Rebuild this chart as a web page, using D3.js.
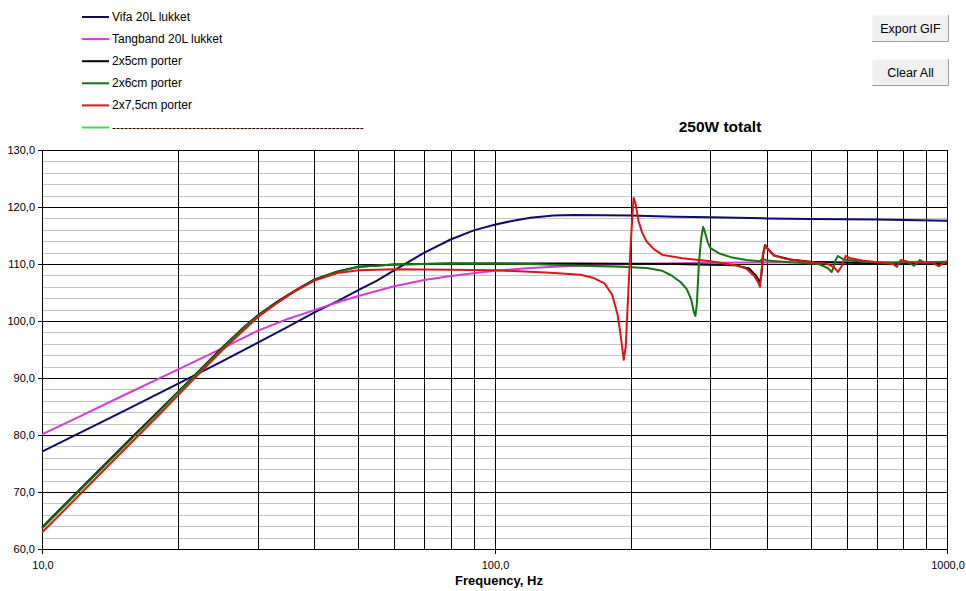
<!DOCTYPE html>
<html>
<head>
<meta charset="utf-8">
<script src="https://cdn.jsdelivr.net/npm/d3@7"></script>
<style>
  body { margin: 0; background: #fff; }
  svg { font-family: "Liberation Sans", Arial, sans-serif; }
</style>
</head>
<body>
<div id="chart"></div>
<script>
// series data: [frequency Hz, SPL dB]
const vifa = [[10,77.1],[12,80.2],[15,84.0],[20,89.0],[25,92.9],[30,96.2],[35,99.0],[40,101.5],[45,103.5],[50,105.4],[55,107.1],[60,108.9],[70,112.0],[80,114.3],[90,115.9],[100,116.9],[110,117.6],[120,118.1],[135,118.5],[150,118.6],[200,118.5],[250,118.3],[300,118.2],[400,118.0],[500,117.9],[700,117.8],[1000,117.6]];
const tangband = [[10,80.1],[12,83.1],[15,86.8],[20,91.5],[25,95.2],[30,98.3],[35,100.4],[40,101.9],[45,103.3],[50,104.4],[60,106.1],[70,107.2],[80,107.9],[100,108.8],[120,109.3],[150,109.7],[200,110.0],[300,110.2],[500,110.3],[1000,110.3]];
const porter5 = [[10,63.8],[12,70.1],[14,75.4],[16,80.0],[18,84.0],[20,87.6],[22,90.9],[25,95.3],[28,99.0],[30,101.0],[33,103.3],[36,105.2],[40,107.3],[45,108.7],[50,109.5],[60,109.9],[80,110.1],[150,110.1],[250,110.0],[340,109.8],[365,109.2],[378,108.0],[386,106.8],[389,108.2],[392,111.5],[396,113.3],[402,112.6],[415,111.5],[450,110.8],[500,110.4],[600,110.2],[800,110.1],[1000,110.2]];
const porter6 = [[10,63.6],[12,69.9],[14,75.2],[16,79.8],[18,83.8],[20,87.5],[22,90.8],[25,95.2],[28,98.9],[30,100.9],[33,103.2],[36,105.1],[40,107.2],[45,108.6],[50,109.5],[60,109.9],[80,110.1],[120,110.0],[155,109.7],[190,109.5],[217,109.3],[235,108.8],[247,107.9],[258,106.8],[266,105.6],[272,103.8],[276,101.5],[278,100.9],[280,103.0],[283,110.2],[286,114.2],[289,116.5],[292,115.5],[296,113.8],[300,112.8],[315,111.8],[333,111.2],[360,110.7],[386,110.5],[392,110.9],[400,110.6],[450,110.3],[520,110.0],[545,109.3],[556,108.6],[562,109.5],[568,110.8],[574,111.4],[590,110.8],[650,110.4],[750,110.2],[820,110.3],[845,109.7],[860,110.2],[870,110.7],[890,110.3],[1000,110.4]];
const porter75 = [[10,62.9],[12,69.2],[14,74.6],[16,79.2],[18,83.3],[20,87.0],[22,90.4],[25,94.8],[28,98.5],[30,100.7],[33,103.1],[36,105.1],[40,107.1],[45,108.4],[50,108.9],[60,109.1],[80,109.0],[100,108.9],[130,108.5],[155,108.1],[165,107.6],[175,106.6],[182,104.6],[187,101.2],[190,97.5],[193,93.2],[195,95.5],[197,103.0],[199,110.2],[201,116.5],[203,121.6],[205,120.6],[208,117.6],[212,115.5],[217,113.9],[225,112.6],[235,111.6],[260,111.0],[300,110.5],[340,109.8],[360,109.2],[375,107.9],[383,106.7],[386,106.0],[389,108.5],[392,111.8],[397,113.3],[403,112.5],[415,111.5],[440,110.9],[490,110.4],[540,110.1],[563,109.4],[574,108.6],[585,109.6],[597,111.4],[612,111.0],[650,110.6],[700,110.3],[760,110.0],[775,109.5],[790,110.7],[820,110.4],[880,110.2],[930,110.2],[960,109.6],[980,110.1],[1000,110.5]];

const seriesNames = ["Vifa 20L lukket", "Tangband 20L lukket", "2x5cm porter", "2x6cm porter", "2x7,5cm porter", "-".repeat(63)];
const seriesColors = ["#0c0c6c", "#d83ad8", "#000000", "#137713", "#e01414", "#44dd44"];
const seriesData = [vifa, tangband, porter5, porter6, porter75, []];

const yMajor = d3.range(60, 131, 10);
const yMinor = d3.range(60, 131, 2);
const xGrid = [10,20,30,40,50,60,70,80,90,100,200,300,400,500,600,700,800,900,1000];
const xLabels = [10, 100, 1000];

const width = 966, height = 591;
const margin = {top: 150, right: 19, bottom: 42, left: 42};

const svg = d3.select("#chart").append("svg")
    .attr("width", width)
    .attr("height", height);

const x = d3.scaleLog().domain([10, 1000]).range([margin.left, width - margin.right]);
const y = d3.scaleLinear().domain([60, 130]).range([height - margin.bottom, margin.top]);
const fmt = v => d3.format(".1f")(v).replace(".", ",");

// grid
const grid = svg.append("g").attr("shape-rendering", "crispEdges");
grid.selectAll(".minor").data(yMinor.filter(v => v % 10 !== 0)).enter()
    .append("line")
    .attr("x1", x(10)).attr("x2", x(1000))
    .attr("y1", d => Math.round(y(d)) + 0.5).attr("y2", d => Math.round(y(d)) + 0.5)
    .style("stroke", "#c4c4c4");
grid.selectAll(".vx").data(xGrid).enter()
    .append("line")
    .attr("x1", d => Math.round(x(d)) + 0.5).attr("x2", d => Math.round(x(d)) + 0.5)
    .attr("y1", y(130)).attr("y2", y(60))
    .style("stroke", "#000");
grid.selectAll(".major").data(yMajor).enter()
    .append("line")
    .attr("x1", x(10) - 4).attr("x2", x(1000))
    .attr("y1", d => Math.round(y(d)) + 0.5).attr("y2", d => Math.round(y(d)) + 0.5)
    .style("stroke", "#000");
grid.selectAll(".xt").data(xLabels).enter()
    .append("line")
    .attr("x1", d => Math.round(x(d)) + 0.5).attr("x2", d => Math.round(x(d)) + 0.5)
    .attr("y1", y(60)).attr("y2", y(60) + 5)
    .style("stroke", "#000");

// tick labels
svg.selectAll(".ylab").data(yMajor).enter()
    .append("text")
    .attr("x", 35).attr("y", d => y(d) + 4)
    .attr("text-anchor", "end")
    .style("font-size", "11px")
    .text(d => fmt(d));
svg.selectAll(".xlab").data(xLabels).enter()
    .append("text")
    .attr("x", d => x(d) + 1).attr("y", 569)
    .attr("text-anchor", "middle")
    .style("font-size", "11px")
    .text(d => fmt(d));
svg.append("text")
    .attr("x", 499).attr("y", 585)
    .attr("text-anchor", "middle")
    .style("font-size", "13px").style("font-weight", "bold")
    .text("Frequency, Hz");
svg.append("text")
    .attr("x", 720).attr("y", 132)
    .attr("text-anchor", "middle")
    .style("font-size", "15.5px").style("font-weight", "bold")
    .text("250W totalt");

// curves
const line = d3.line().x(d => x(d[0])).y(d => y(d[1]));
svg.append("g").selectAll("path")
    .data(seriesData.filter(d => d.length))
    .enter().append("path")
    .attr("d", line)
    .style("fill", "none")
    .style("stroke", (d, i) => seriesColors[i])
    .style("stroke-width", 2)
    .style("stroke-linejoin", "round");

// legend
const legend = svg.append("g").selectAll("g")
    .data(seriesNames).enter().append("g")
    .attr("transform", (d, i) => "translate(0," + (17 + i * 22.1) + ")");
legend.append("line")
    .attr("x1", 82).attr("x2", 109)
    .style("stroke", (d, i) => seriesColors[i])
    .style("stroke-width", 2);
legend.append("text")
    .attr("x", 112).attr("y", 4)
    .style("font-size", "12px")
    .text(d => d);

// buttons
const buttons = ["Export GIF", "Clear All"];
const btn = svg.append("g").selectAll("g")
    .data(buttons).enter().append("g")
    .attr("transform", (d, i) => "translate(872," + (15 + i * 44) + ")");
btn.append("rect")
    .attr("width", 77).attr("height", 27)
    .style("fill", "#f0f0f0")
    .style("stroke", "#ffffff");
btn.append("path")
    .attr("d", "M0,26.5H76.5V0")
    .style("fill", "none")
    .style("stroke", "#a0a0a0");
btn.append("text")
    .attr("x", 38.5).attr("y", 18)
    .attr("text-anchor", "middle")
    .style("font-size", "12.5px")
    .text(d => d);
</script>
</body>
</html>
